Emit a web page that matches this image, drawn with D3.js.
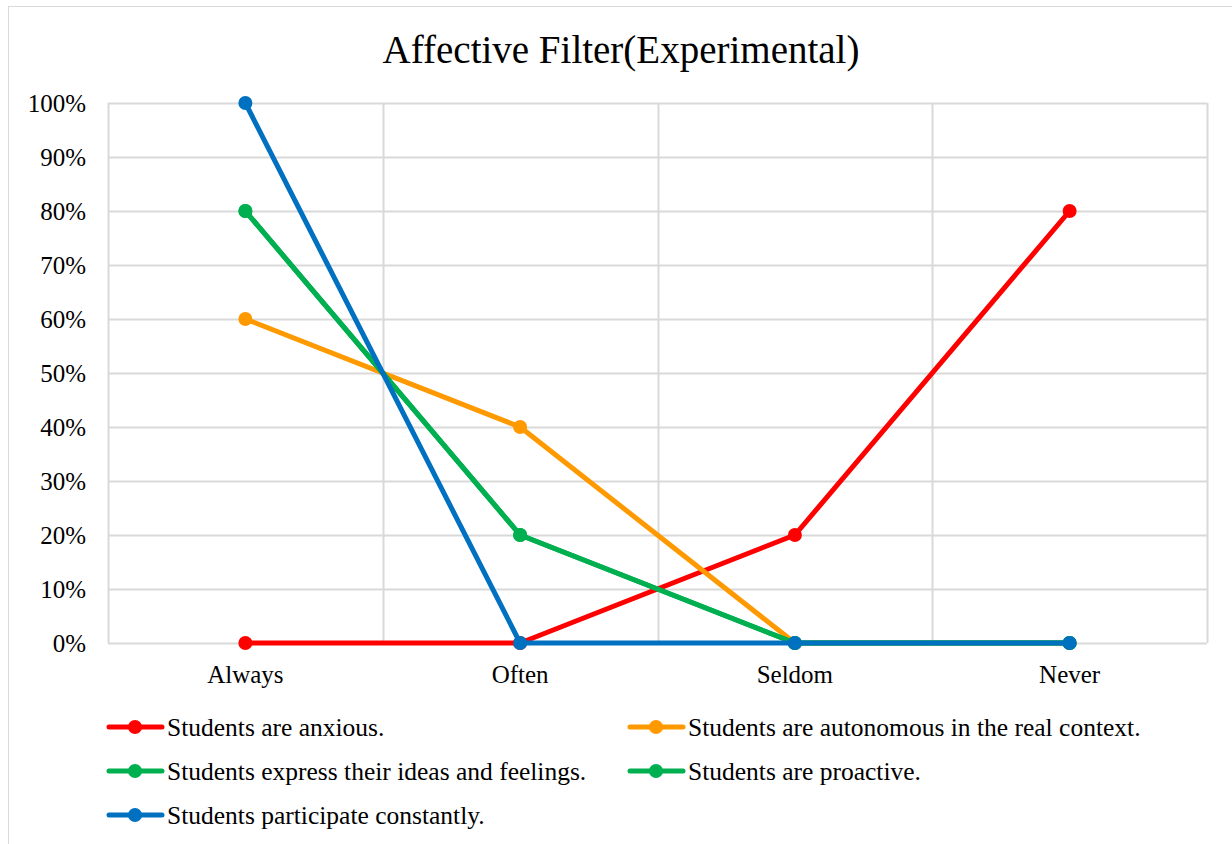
<!DOCTYPE html>
<html lang="en">
<head>
    <meta charset="UTF-8">
    <title>Affective Filter(Experimental)</title>
    <script type="text/javascript" src="https://d3js.org/d3.v7.min.js"></script>
    <style>
        body { margin: 0; background: #fff; }
        text { font-family: "Liberation Serif", "DejaVu Serif", serif; fill: #000; }
    </style>
</head>
<body>
    <div id="chart"></div>
    <script>
        // data
        const categories = ["Always", "Often", "Seldom", "Never"];
        const seriesNames = [
            "Students are anxious.",
            "Students are autonomous in the real context.",
            "Students express their ideas and feelings.",
            "Students are proactive.",
            "Students participate constantly."
        ];
        const anxious = [0, 0, 0.2, 0.8];
        const autonomous = [0.6, 0.4, 0, 0];
        const express = [0.8, 0.2, 0, 0];
        const proactive = [0.8, 0.2, 0, 0];
        const participate = [1, 0, 0, 0];
        const seriesColors = ["#FF0000", "#FF9900", "#00B050", "#00B050", "#0070C0"];
        const yTicks = [0, 0.1, 0.2, 0.3, 0.4, 0.5, 0.6, 0.7, 0.8, 0.9, 1];

        const allSeries = [anxious, autonomous, express, proactive, participate].map((vals, i) => ({
            name: seriesNames[i], color: seriesColors[i], values: vals
        }));

        const svgWidth = 1232;
        const svgHeight = 844;

        const svg = d3.select("#chart")
            .append("svg")
            .attr("width", svgWidth)
            .attr("height", svgHeight);

        // chart border
        svg.append("rect")
            .attr("x", 8.5)
            .attr("y", 6.5)
            .attr("width", 1230)
            .attr("height", 860)
            .attr("fill", "white")
            .attr("stroke", "#D9D9D9");

        // title
        svg.append("text")
            .attr("x", 621)
            .attr("y", 63)
            .style("text-anchor", "middle")
            .style("font-size", "39px")
            .text("Affective Filter(Experimental)");

        const plotLeft = 108, plotRight = 1207, plotTop = 103, plotBottom = 643;

        const xScale = d3.scaleBand()
            .domain(categories)
            .range([plotLeft, plotRight]);

        const yScale = d3.scaleLinear()
            .domain([0, 1])
            .range([plotBottom, plotTop]);

        const cx = d => xScale(d) + xScale.bandwidth() / 2;

        // horizontal gridlines
        svg.append("g")
            .selectAll("line")
            .data(yTicks)
            .enter()
            .append("line")
            .attr("x1", plotLeft)
            .attr("x2", plotRight)
            .attr("y1", d => Math.round(yScale(d)) + 0.5)
            .attr("y2", d => Math.round(yScale(d)) + 0.5)
            .attr("stroke", "#D9D9D9")
            .attr("stroke-width", 2);

        // vertical gridlines at category boundaries
        const bounds = categories.map(c => xScale(c)).concat([plotRight]);
        svg.append("g")
            .selectAll("line")
            .data(bounds)
            .enter()
            .append("line")
            .attr("x1", d => Math.round(d) + 0.5)
            .attr("x2", d => Math.round(d) + 0.5)
            .attr("y1", plotTop)
            .attr("y2", plotBottom)
            .attr("stroke", "#D9D9D9")
            .attr("stroke-width", 2);

        // y axis labels
        const yAxis = d3.axisLeft(yScale)
            .tickValues(yTicks)
            .tickFormat(d3.format(".0%"))
            .tickSize(0)
            .tickPadding(22);

        const yg = svg.append("g")
            .attr("transform", "translate(" + plotLeft + ",0)")
            .call(yAxis);
        yg.select(".domain").remove();
        yg.selectAll("text")
            .style("font-size", "25px")
            .style("font-family", "'Liberation Serif', serif")
            .attr("fill", "#000");

        // x axis labels
        const xAxis = d3.axisBottom(xScale)
            .tickSize(0)
            .tickPadding(22);

        const xg = svg.append("g")
            .attr("transform", "translate(0," + plotBottom + ")")
            .call(xAxis);
        xg.select(".domain").remove();
        xg.selectAll("text")
            .style("font-size", "25px")
            .style("font-family", "'Liberation Serif', serif")
            .attr("fill", "#000");

        // lines
        const line = d3.line()
            .x((d, k) => cx(categories[k]))
            .y(d => yScale(d));

        const seriesG = svg.append("g")
            .selectAll("g")
            .data(allSeries)
            .enter()
            .append("g");

        seriesG.append("path")
            .attr("d", d => line(d.values))
            .attr("fill", "none")
            .attr("stroke", d => d.color)
            .attr("stroke-width", 5)
            .attr("stroke-linejoin", "round");

        seriesG.selectAll("circle")
            .data(d => d.values.map(v => ({ v: v, color: d.color })))
            .enter()
            .append("circle")
            .attr("cx", (d, k) => cx(categories[k]))
            .attr("cy", d => yScale(d.v))
            .attr("r", 7)
            .attr("fill", d => d.color);

        // legend
        const legendPos = [[107, 727], [628, 727], [107, 771], [628, 771], [107, 815]];
        const legend = svg.append("g")
            .selectAll("g")
            .data(allSeries)
            .enter()
            .append("g")
            .attr("transform", (d, i) => "translate(" + legendPos[i][0] + "," + legendPos[i][1] + ")");

        legend.append("line")
            .attr("x1", 2)
            .attr("x2", 55)
            .attr("y1", 0)
            .attr("y2", 0)
            .attr("stroke", d => d.color)
            .attr("stroke-width", 5)
            .attr("stroke-linecap", "round");

        legend.append("circle")
            .attr("cx", 28)
            .attr("cy", 0)
            .attr("r", 7)
            .attr("fill", d => d.color);

        legend.append("text")
            .attr("x", 60)
            .attr("y", 8.5)
            .style("font-size", "25.5px")
            .text(d => d.name);
    </script>
</body>
</html>
